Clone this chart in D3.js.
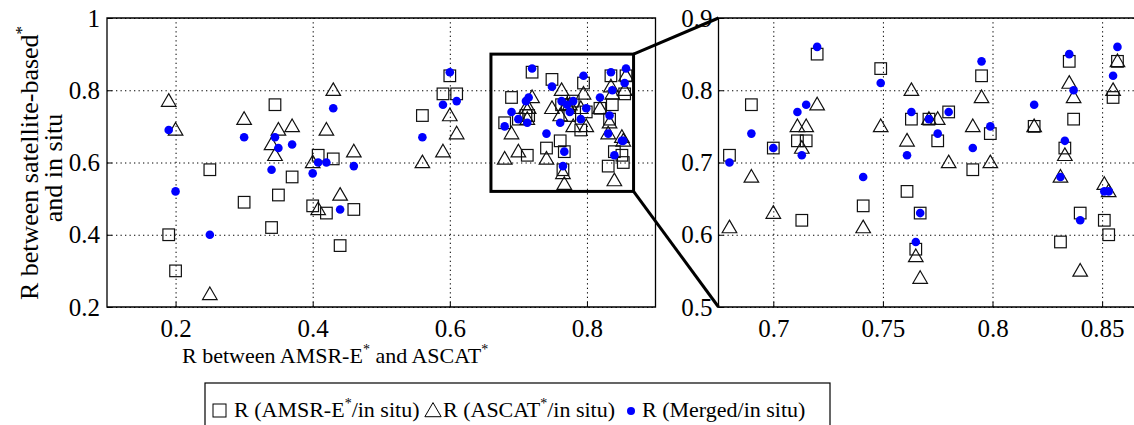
<!DOCTYPE html>
<html>
<head>
<meta charset="utf-8">
<script src="https://cdn.jsdelivr.net/npm/d3@7"></script>
<style>
  html, body { margin: 0; padding: 0; background: #fff; }
  svg { display: block; }
  text { font-family: "Liberation Serif", "Times New Roman", serif; fill: #000; }
</style>
</head>
<body>
<svg id="chart" width="1134" height="425"></svg>
<script>
// ---- data: one entry per station ----
const xR = [0.19, 0.20, 0.25, 0.30, 0.345, 0.35, 0.34, 0.37, 0.40, 0.408, 0.42, 0.43, 0.44, 0.46,
  0.56, 0.60, 0.59, 0.61,
  0.68, 0.69, 0.70, 0.711, 0.715, 0.713, 0.72, 0.741, 0.749, 0.761, 0.763, 0.765, 0.767, 0.771,
  0.775, 0.78, 0.791, 0.795, 0.799, 0.819, 0.831, 0.833, 0.835, 0.837, 0.84, 0.851, 0.853, 0.855, 0.857];
const amsrR = [0.40, 0.30, 0.58, 0.49, 0.76, 0.51, 0.42, 0.56, 0.48, 0.62, 0.46, 0.61, 0.37, 0.47,
  0.73, 0.84, 0.79, 0.79,
  0.71, 0.78, 0.72, 0.73, 0.73, 0.62, 0.85, 0.64, 0.83, 0.66, 0.76, 0.58, 0.63, 0.76,
  0.73, 0.77, 0.69, 0.82, 0.74, 0.75, 0.59, 0.72, 0.84, 0.76, 0.63, 0.62, 0.60, 0.79, 0.84];
const ascatR = [0.77, 0.69, 0.235, 0.72, 0.62, 0.69, 0.65, 0.70, 0.60, 0.47, 0.69, 0.80, 0.51, 0.63,
  0.60, 0.73, 0.63, 0.68,
  0.61, 0.68, 0.63, 0.75, 0.75, 0.72, 0.78, 0.61, 0.75, 0.73, 0.80, 0.57, 0.54, 0.76,
  0.76, 0.70, 0.75, 0.79, 0.70, 0.75, 0.68, 0.71, 0.81, 0.79, 0.55, 0.67, 0.66, 0.80, 0.84];
const mergedR = [0.69, 0.52, 0.40, 0.67, 0.67, 0.64, 0.58, 0.65, 0.57, 0.60, 0.60, 0.75, 0.47, 0.59,
  0.67, 0.85, 0.76, 0.77,
  0.70, 0.74, 0.72, 0.77, 0.78, 0.71, 0.86, 0.68, 0.81, 0.71, 0.77, 0.59, 0.63, 0.76,
  0.74, 0.77, 0.72, 0.84, 0.75, 0.78, 0.68, 0.73, 0.85, 0.80, 0.62, 0.66, 0.66, 0.82, 0.86];

const leftXTicks = [0.2, 0.4, 0.6, 0.8];
const leftYTicks = [0.2, 0.4, 0.6, 0.8, 1];
const rightXTicks = [0.7, 0.75, 0.8, 0.85];
const rightYTicks = [0.5, 0.6, 0.7, 0.8, 0.9];
const zoomX = [0.66, 0.868];
const zoomY = [0.52, 0.9];
const legendLabels = ["R (AMSR-E", "R (ASCAT", "R (Merged/in situ)"];

// ---- layout ----
const SERIF = '"Liberation Serif", "Times New Roman", serif';
const svg = d3.select("#chart");
const FONT = 22;
const TICKFONT = 25;
const fmtTick = d => String(+d.toFixed(2));
const panels = [
  { x: d3.scaleLinear().domain([0.1, 0.9]).range([107, 655.5]),
    y: d3.scaleLinear().domain([0.2, 1]).range([307, 18]),
    xt: leftXTicks, yt: leftYTicks, right: true, clip: "clipL" },
  { x: d3.scaleLinear().domain([0.675, 0.865]).range([718.5, 1135]),
    y: d3.scaleLinear().domain([0.5, 0.9]).range([307, 18]),
    xt: rightXTicks, yt: rightYTicks, right: false, clip: "clipR" }
];

const defs = svg.append("defs");

panels.forEach(p => {
  const [x0, x1] = p.x.range();
  const [y1, y0] = p.y.range();
  defs.append("clipPath").attr("id", p.clip).append("rect")
    .attr("x", x0 - 8).attr("y", y0 - 8).attr("width", x1 - x0 + 16).attr("height", y1 - y0 + 16);

  const g = svg.append("g");
  // grid
  const gx = d3.axisBottom(p.x).tickValues(p.xt).tickSize(-(y1 - y0)).tickFormat("");
  g.append("g").attr("transform", `translate(0,${y1})`).call(gx)
    .call(s => s.select(".domain").remove())
    .call(s => s.selectAll("line").attr("stroke", "#000").attr("stroke-width", 1).attr("stroke-dasharray", "1.3,3.2"));
  const gy = d3.axisLeft(p.y).tickValues(p.yt).tickSize(-(x1 - x0)).tickFormat("");
  g.append("g").attr("transform", `translate(${x0},0)`).call(gy)
    .call(s => s.select(".domain").remove())
    .call(s => s.selectAll("line").attr("stroke", "#000").attr("stroke-width", 1).attr("stroke-dasharray", "1.3,3.2"));

  // inward ticks + labels
  const ax = d3.axisBottom(p.x).tickValues(p.xt).tickSizeInner(-5).tickSizeOuter(0).tickPadding(12).tickFormat(fmtTick);
  g.append("g").attr("transform", `translate(0,${y1})`).call(ax)
    .call(s => s.select(".domain").remove())
    .call(s => s.selectAll("line").attr("stroke", "#000"))
    .call(s => s.selectAll("text").style("font-family", SERIF).style("font-size", TICKFONT + "px").attr("dy", "0.71em"));
  const ay = d3.axisLeft(p.y).tickValues(p.yt).tickSizeInner(-5).tickSizeOuter(0).tickPadding(p.right ? 7 : 6).tickFormat(fmtTick);
  g.append("g").attr("transform", `translate(${x0},0)`).call(ay)
    .call(s => s.select(".domain").remove())
    .call(s => s.selectAll("line").attr("stroke", "#000"))
    .call(s => s.selectAll("text").style("font-family", SERIF).style("font-size", TICKFONT + "px"));

  // frame
  g.append("path").attr("fill", "none").attr("stroke", "#000").attr("stroke-width", 1.3)
    .attr("d", p.right
      ? `M${x0},${y0}H${x1}V${y1}H${x0}Z`
      : `M${x1 + 5},${y0}H${x0}V${y1}H${x1 + 5}`);

  // markers
  const m = g.append("g").attr("clip-path", `url(#${p.clip})`);
  const idx = d3.range(xR.length).filter(i => xR[i] >= p.x.domain()[0] - 0.005 && xR[i] <= p.x.domain()[1]);
  const inY = v => v >= p.y.domain()[0] - 0.01 && v <= p.y.domain()[1] + 0.01;
  m.selectAll("rect.sq").data(idx.filter(i => inY(amsrR[i]))).join("rect")
    .attr("x", i => p.x(xR[i]) - 5.8).attr("y", i => p.y(amsrR[i]) - 5.8)
    .attr("width", 11.6).attr("height", 11.6)
    .attr("fill", "none").attr("stroke", "#111").attr("stroke-width", 1.2);
  const tri = d3.symbol().type(d3.symbolTriangle).size(92);
  m.selectAll("path.tr").data(idx.filter(i => inY(ascatR[i]))).join("path")
    .attr("d", tri)
    .attr("transform", i => `translate(${p.x(xR[i])},${p.y(ascatR[i]) + 1})`)
    .attr("fill", "none").attr("stroke", "#111").attr("stroke-width", 1.2);
  m.selectAll("circle.dt").data(idx.filter(i => inY(mergedR[i]))).join("circle")
    .attr("cx", i => p.x(xR[i])).attr("cy", i => p.y(mergedR[i])).attr("r", 4.3)
    .attr("fill", "#0000ff");
});

// zoom rectangle + connector lines
const L = panels[0], R = panels[1];
svg.append("rect")
  .attr("x", L.x(zoomX[0])).attr("y", L.y(zoomY[1]))
  .attr("width", L.x(zoomX[1]) - L.x(zoomX[0])).attr("height", L.y(zoomY[0]) - L.y(zoomY[1]))
  .attr("fill", "none").attr("stroke", "#000").attr("stroke-width", 3);
svg.append("line")
  .attr("x1", L.x(zoomX[1])).attr("y1", L.y(zoomY[1]))
  .attr("x2", R.x.range()[0]).attr("y2", R.y.range()[1])
  .attr("stroke", "#000").attr("stroke-width", 3);
svg.append("line")
  .attr("x1", L.x(zoomX[1])).attr("y1", L.y(zoomY[0]))
  .attr("x2", R.x.range()[0]).attr("y2", R.y.range()[0])
  .attr("stroke", "#000").attr("stroke-width", 3);

// axis labels
const xl = svg.append("text").attr("x", 182).attr("y", 363).style("font-family", SERIF).style("font-size", FONT + "px");
xl.append("tspan").text("R between AMSR-E");
xl.append("tspan").attr("dy", -9).style("font-size", "14px").text("*");
xl.append("tspan").attr("dy", 9).text(" and ASCAT");
xl.append("tspan").attr("dy", -9).style("font-size", "14px").text("*");

const yl = svg.append("text").attr("transform", "translate(38,163) rotate(-90)")
  .attr("text-anchor", "middle").style("font-family", SERIF).style("font-size", "26px");
yl.append("tspan").text("R between satellite-based");
yl.append("tspan").attr("dy", -11).style("font-size", "17px").text("*");
svg.append("text").attr("transform", "translate(62,168) rotate(-90)")
  .attr("text-anchor", "middle").style("font-family", SERIF).style("font-size", "26px").text("and in situ");

// legend
const lg = svg.append("g");
lg.append("rect").attr("x", 205).attr("y", 383).attr("width", 625).attr("height", 60)
  .attr("fill", "#fff").attr("stroke", "#000").attr("stroke-width", 1.2);
const ly = 417;
lg.append("rect").attr("x", 213).attr("y", ly - 13).attr("width", 13).attr("height", 13)
  .attr("fill", "none").attr("stroke", "#000").attr("stroke-width", 1);
const t1 = lg.append("text").attr("x", 234).attr("y", ly).style("font-family", SERIF).style("font-size", FONT + "px");
t1.append("tspan").text(legendLabels[0]);
t1.append("tspan").attr("dy", -9).style("font-size", "14px").text("*");
t1.append("tspan").attr("dy", 9).text("/in situ)");
lg.append("path").attr("d", d3.symbol().type(d3.symbolTriangle).size(115))
  .attr("transform", `translate(433,${ly - 5})`).attr("fill", "none").attr("stroke", "#000").attr("stroke-width", 1);
const t2 = lg.append("text").attr("x", 443).attr("y", ly).style("font-family", SERIF).style("font-size", FONT + "px");
t2.append("tspan").text(legendLabels[1]);
t2.append("tspan").attr("dy", -9).style("font-size", "14px").text("*");
t2.append("tspan").attr("dy", 9).text("/in situ)");
lg.append("circle").attr("cx", 631).attr("cy", ly - 6).attr("r", 4).attr("fill", "#0000ff");
lg.append("text").attr("x", 642).attr("y", ly).style("font-family", SERIF).style("font-size", FONT + "px").text(legendLabels[2]);
</script>
</body>
</html>
